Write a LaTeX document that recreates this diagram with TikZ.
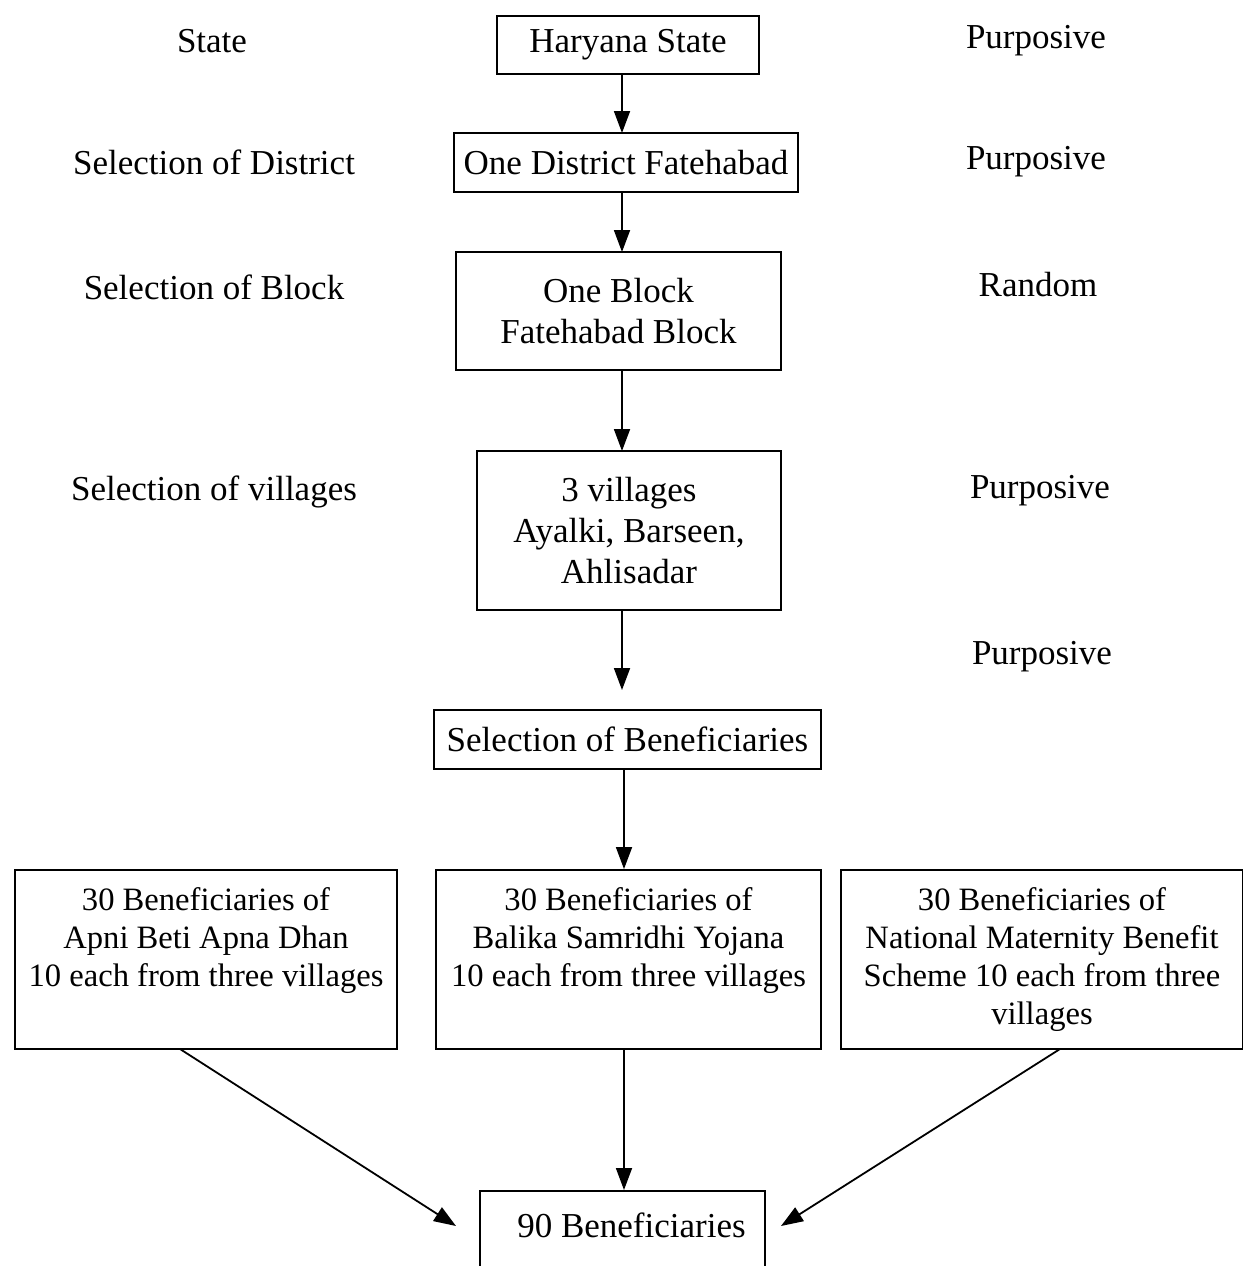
\documentclass[tikz,border=0pt]{standalone}
\usepackage{fontspec}
\setmainfont{Liberation Serif}
\usetikzlibrary{arrows.meta}
\begin{document}
\begin{tikzpicture}[x=0.5pt,y=-0.5pt,
  box/.style={draw,line width=0.9pt,inner sep=0pt,align=center,font=\fontsize{17.5}{20.5}\selectfont},
  sbox/.style={draw,line width=0.9pt,inner sep=0pt,align=center,font=\fontsize{16.3}{19}\selectfont},
  lab/.style={font=\fontsize{17.5}{20.5}\selectfont},
  arr/.style={line width=0.9pt,-{Triangle[length=11pt,width=8pt]}}]
\useasboundingbox (0,0) rectangle (1243,1266);
\fill[white] (0,0) rectangle (1243,1266);
% boxes
\node[box,minimum width=131pt,minimum height=29pt] (b1) at (628,45) {Haryana State};
\node[box,minimum width=172pt,minimum height=29.5pt] (b2) at (626,162.5) {One District Fatehabad};
\node[box,minimum width=162.5pt,minimum height=59pt] (b3) at (618.5,311) {One Block\\Fatehabad Block};
\node[box,minimum width=152pt,minimum height=79.5pt] (b4) at (629,530.5) {3 villages\\Ayalki, Barseen,\\Ahlisadar};
\node[box,minimum width=193.5pt,minimum height=29.5pt] (b5) at (627.5,739.5) {Selection of Beneficiaries};
\node[sbox,minimum width=191pt,minimum height=89.5pt,text depth=22pt] (b6) at (206,959.5) {30 Beneficiaries of\\Apni Beti Apna Dhan\\10 each from three villages};
\node[sbox,minimum width=192.5pt,minimum height=89.5pt,text depth=22pt] (b7) at (628.5,959.5) {30 Beneficiaries of\\Balika Samridhi Yojana\\10 each from three villages};
\node[sbox,minimum width=201pt,minimum height=89.5pt] (b8) at (1042,959.5) {30 Beneficiaries of\\National Maternity Benefit\\Scheme 10 each from three\\villages};
\node[box,anchor=north,minimum width=142.5pt,inner xsep=0pt,inner ysep=4pt,text height=19.5pt,text depth=30pt] (b9) at (622.5,1190) {\hspace*{9pt}90 Beneficiaries};
% side labels
\node[lab] (l1) at (212,41) {State};
\node[lab] (l2) at (214,162) {Selection of District};
\node[lab] (l3) at (214,287) {Selection of Block};
\node[lab] (l4) at (214,492) {Selection of villages};
\node[lab] (r1) at (1036,41) {Purposive};
\node[lab] (r2) at (1036,162) {Purposive};
\node[lab] (r3) at (1038,285) {Random};
\node[lab] (r4) at (1040,491) {Purposive};
\node[lab] (r5) at (1042,657) {Purposive};
% coordinates
\coordinate (s1) at (622,74);
\coordinate (e1) at (622,133);
\coordinate (s2) at (622,192);
\coordinate (e2) at (622,252);
\coordinate (s3) at (622,370);
\coordinate (e3) at (622,451);
\coordinate (s4) at (622,610);
\coordinate (e4) at (622,690);
\coordinate (s5) at (624,769);
\coordinate (e5) at (624,869);
\coordinate (s7) at (624,1049);
\coordinate (e7) at (624,1190);
\coordinate (s6) at (180,1049);
\coordinate (e6) at (456,1226);
\coordinate (s8) at (1060,1049);
\coordinate (e8) at (781,1226);
% arrows
\draw[arr] (s1) -- (e1);
\draw[arr] (s2) -- (e2);
\draw[arr] (s3) -- (e3);
\draw[arr] (s4) -- (e4);
\draw[arr] (s5) -- (e5);
\draw[arr] (s7) -- (e7);
\draw[arr] (s6) -- (e6);
\draw[arr] (s8) -- (e8);
\end{tikzpicture}
\end{document}
